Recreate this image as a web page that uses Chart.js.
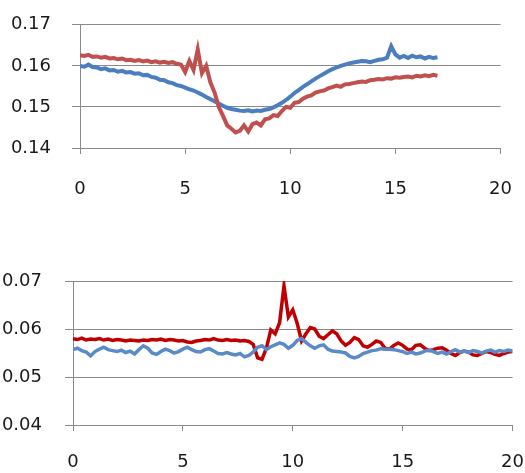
<!DOCTYPE html>
<html>
<head>
<meta charset="utf-8">
<script src="https://cdn.jsdelivr.net/npm/chart.js@4/dist/chart.umd.min.js"></script>
<style>
html,body{margin:0;padding:0;background:#fff;}
#wrap{position:relative;width:525px;height:473px;overflow:hidden;}
#c1{position:absolute;left:0;top:-7px;}
#c2{position:absolute;left:0;top:215px;}
</style>
</head>
<body>
<div id="wrap">
<canvas id="c1" width="537" height="222"></canvas>
<canvas id="c2" width="545" height="258"></canvas>
</div>
<script>
// sample spacing of the recorded series (x units)
const SAMPLE_STEP = 0.2;

// Top chart
const topTicksY = [0.14, 0.15, 0.16, 0.17];
const topRed = [
.1626,.1624,.1627,.1622,.1623,.1620,.1622,.1618,.1619,.1616,
.1618,.1614,.1615,.1612,.1614,.1611,.1613,.1609,.1611,.1608,
.1610,.1607,.1609,.1605,.1603,.1585,.1612,.1590,.1640,.1582,
.1600,.1560,.1535,.1500,.1478,.1455,.1447,.1438,.1442,.1455,
.1440,.1458,.1462,.1455,.1470,.1472,.1480,.1478,.1490,.1500,
.1498,.1510,.1512,.1520,.1525,.1528,.1535,.1538,.1540,.1545,
.1548,.1552,.1549,.1555,.1556,.1558,.1560,.1562,.1561,.1565,
.1566,.1568,.1567,.1570,.1569,.1572,.1571,.1573,.1574,.1572,
.1576,.1574,.1577,.1575,.1578,.1576];
const topBlue = [
.1600,.1598,.1603,.1597,.1596,.1592,.1594,.1589,.1590,.1586,
.1588,.1584,.1585,.1581,.1582,.1577,.1578,.1573,.1571,.1566,
.1565,.1560,.1558,.1553,.1551,.1547,.1543,.1540,.1535,.1530,
.1524,.1519,.1514,.1508,.1503,.1498,.1495,.1493,.1491,.1490,
.1492,.1489,.1491,.1490,.1493,.1495,.1499,.1504,.1510,.1517,
.1525,.1534,.1541,.1549,.1555,.1562,.1569,.1575,.1581,.1587,
.1592,.1596,.1600,.1603,.1606,.1608,.1610,.1612,.1611,.1609,
.1612,.1615,.1616,.1620,.1648,.1628,.1620,.1624,.1619,.1625,
.1621,.1623,.1618,.1622,.1619,.1621];

// Bottom chart
const botTicksY = [0.04, 0.05, 0.06, 0.07];
const botRed = [
.0580,.0578,.0581,.0577,.0579,.0578,.0580,.0577,.0579,.0576,
.0578,.0577,.0575,.0577,.0576,.0575,.0577,.0576,.0578,.0577,
.0579,.0576,.0578,.0577,.0575,.0576,.0573,.0572,.0575,.0576,
.0578,.0577,.0580,.0577,.0576,.0578,.0576,.0577,.0575,.0576,
.0574,.0568,.0540,.0537,.0560,.0598,.0590,.0613,.0690,.0625,
.0640,.0612,.0575,.0590,.0603,.0600,.0585,.0580,.0588,.0596,
.0590,.0575,.0566,.0572,.0582,.0578,.0565,.0562,.0568,.0575,
.0572,.0560,.0558,.0566,.0571,.0566,.0558,.0557,.0566,.0567,
.0560,.0555,.0557,.0560,.0561,.0556,.0549,.0545,.0551,.0554,
.0552,.0546,.0545,.0549,.0553,.0551,.0547,.0545,.0549,.0552,
.0553];
const botBlue = [
.0557,.0560,.0555,.0552,.0544,.0553,.0558,.0562,.0557,.0555,
.0553,.0556,.0551,.0554,.0548,.0557,.0565,.0560,.0550,.0547,
.0553,.0558,.0555,.0550,.0553,.0558,.0562,.0557,.0553,.0552,
.0557,.0559,.0554,.0549,.0548,.0551,.0548,.0546,.0549,.0542,
.0545,.0552,.0562,.0565,.0557,.0563,.0567,.0571,.0568,.0560,
.0566,.0576,.0580,.0572,.0565,.0560,.0565,.0567,.0558,.0554,
.0553,.0552,.0550,.0543,.0540,.0543,.0549,.0552,.0555,.0556,
.0559,.0558,.0558,.0557,.0555,.0553,.0549,.0552,.0548,.0550,
.0554,.0556,.0553,.0549,.0552,.0548,.0553,.0557,.0552,.0554,
.0551,.0555,.0553,.0550,.0554,.0556,.0552,.0555,.0553,.0556,
.0554];

const xTicks = [0, 5, 10, 15, 20];

function pts(arr){ return arr.map((v,i)=>({x: +(i*SAMPLE_STEP).toFixed(2), y: v})); }

const FONT = {family: "'DejaVu Sans', sans-serif", size: 18};
const GRID = '#8a8a8a';

function makeChart(id, red, blue, redColor, blueColor, yTicks, opts){
  return new Chart(document.getElementById(id), {
    type: 'line',
    data: {datasets: [
      {data: pts(blue), borderColor: blueColor, borderWidth: opts.lw, pointRadius: 0, tension: 0, order: opts.blueOrder},
      {data: pts(red), borderColor: redColor, borderWidth: opts.lw, pointRadius: 0, tension: 0, order: opts.redOrder}
    ]},
    options: {
      responsive: false, animation: false,
      layout: {padding: {top: opts.top, right: opts.right, left: 0, bottom: 0}},
      plugins: {legend: {display: false}, tooltip: {enabled: false}},
      scales: {
        x: {
          type: 'linear', min: 0, max: 20,
          afterBuildTicks: s => { s.ticks = xTicks.map(v => ({value: v})); },
          ticks: {font: FONT, color: '#1a1a1a', padding: opts.xpad, maxRotation: 0},
          grid: {drawOnChartArea: false, drawTicks: true, tickLength: 6, color: GRID},
          border: {display: true, color: GRID},
          afterFit: s => { s.height = opts.xh; }
        },
        y: {
          min: yTicks[0], max: yTicks[yTicks.length-1],
          afterBuildTicks: s => { s.ticks = yTicks.map(v => ({value: v})); },
          ticks: {font: FONT, color: '#1a1a1a', padding: opts.ypad, callback: v => v.toFixed(2)},
          grid: {drawOnChartArea: true, drawTicks: true, tickLength: 8, color: GRID},
          border: {display: true, color: GRID},
          afterFit: s => { s.width = opts.left; }
        }
      }
    }
  });
}

makeChart('c1', topRed, topBlue, '#C0504D', '#4A7EBF', topTicksY,
  {lw: 4, top: 15, right: 0, left: 80, xh: 67, xpad: 25, ypad: 21, blueOrder: 1, redOrder: 0});
makeChart('c2', botRed, botBlue, '#C00000', '#5A8BC8', botTicksY,
  {lw: 3.5, top: 66, right: 21, left: 73, xh: 48, xpad: 21, ypad: 23, blueOrder: 0, redOrder: 1});
</script>
</body>
</html>
